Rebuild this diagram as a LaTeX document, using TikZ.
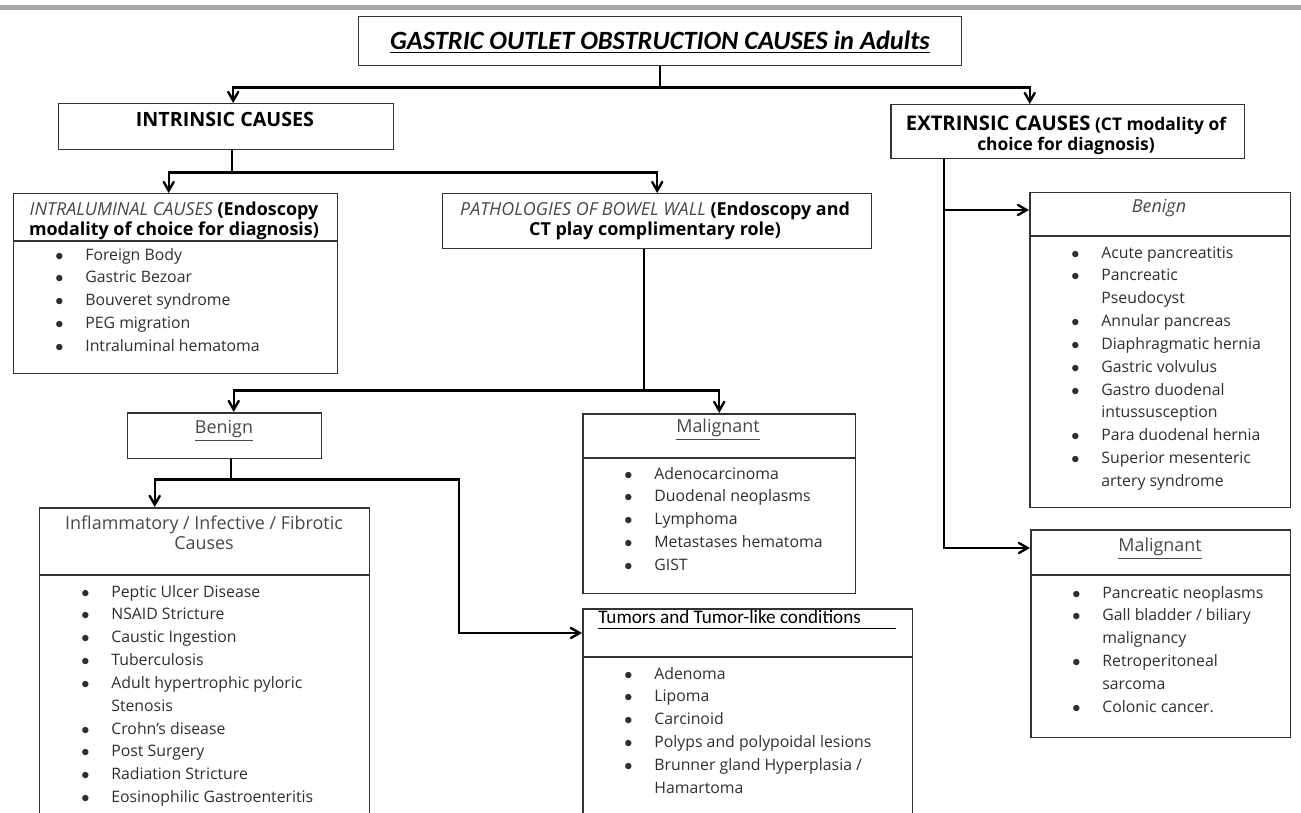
\documentclass[tikz,border=0pt]{standalone}
\usepackage{fontspec}
\setmainfont{Open Sans}
\newfontfamily\calfont{Carlito}
\usetikzlibrary{arrows}
\definecolor{txtgray}{HTML}{2E2E2E}
\definecolor{capgray}{HTML}{474747}
\definecolor{boxgray}{HTML}{333333}
\definecolor{bargray}{HTML}{A6A6A6}
\tikzstyle{box} = [rectangle, draw=boxgray, line width=0.85pt, anchor=north west, inner sep=0pt]
\tikzstyle{head} = [font=\fontsize{10.2}{11.6}\selectfont, align=center, inner sep=0pt]
\tikzstyle{items} = [anchor=base west, inner sep=0pt, text=txtgray, font=\fontsize{9}{13}\selectfont]
\tikzstyle{link} = [line width=1.35pt]
\tikzstyle{arr} = [link, ->, >=angle 60]
\tikzstyle{divider} = [draw=boxgray, line width=0.85pt]
\newcommand{\blist}[1]{\begin{tabular}[t]{@{}l@{}l@{}}#1\end{tabular}}
\newcommand{\bt}{\makebox[0.62cm][l]{\hspace{0.02cm}$\bullet$}}

\begin{document}
\begin{tikzpicture}[x=0.02cm, y=-0.02cm]
\path[use as bounding box, clip] (0,0) rectangle (1301,812);
\fill[bargray] (0,5) rectangle (1301,10);

% boxes
\node[box, minimum width=12.06cm, minimum height=0.98cm] (title) at (358,16) {};
\node[box, minimum width=6.7cm, minimum height=0.92cm] (intr) at (58,103) {};
\node[box, minimum width=7.08cm, minimum height=1.08cm] (extr) at (890,104) {};
\node[box, minimum width=6.48cm, minimum height=3.6cm] (lum) at (13,193) {};
\node[box, minimum width=8.58cm, minimum height=1.1cm] (wall) at (442,193) {};
\node[box, minimum width=3.88cm, minimum height=0.92cm] (ben) at (127,412) {};
\node[box, minimum width=5.46cm, minimum height=3.6cm] (mal) at (582,413) {};
\node[box, minimum width=6.6cm, minimum height=6.46cm] (inf) at (39,507) {};
\node[box, minimum width=6.6cm, minimum height=4.44cm] (tum) at (582,608) {};
\node[box, minimum width=5.22cm, minimum height=6.3cm] (ebn) at (1029,192) {};
\node[box, minimum width=5.2cm, minimum height=4.16cm] (eml) at (1030,529) {};

% header rules
\draw[divider] ([yshift=-0.96cm]lum.north west) -- ([yshift=-0.96cm]lum.north east);
\draw[divider] ([yshift=-0.9cm]mal.north west) -- ([yshift=-0.9cm]mal.north east);
\draw[divider] ([yshift=-1.36cm]inf.north west) -- ([yshift=-1.36cm]inf.north east);
\draw[divider] ([yshift=-0.98cm]tum.north west) -- ([yshift=-0.98cm]tum.north east);
\draw[divider] ([yshift=-0.88cm]ebn.north west) -- ([yshift=-0.88cm]ebn.north east);
\draw[divider] ([yshift=-0.92cm]eml.north west) -- ([yshift=-0.92cm]eml.north east);

% headings
\node[head, font=\calfont\bfseries\itshape\fontsize{15}{17}\selectfont] (titletxt) at (660,42) {\underline{GASTRIC OUTLET OBSTRUCTION CAUSES in Adults}};
\node[head, font=\bfseries\fontsize{11.2}{13}\selectfont] (intrtxt) at (225,119) {INTRINSIC CAUSES};
\node[head, font=\bfseries\fontsize{9.9}{11.6}\selectfont] (extrtxt) at (1066,135) {{\fontsize{11.5}{13}\selectfont EXTRINSIC CAUSES} (CT modality of\\choice for diagnosis)};
\node[head] (lumtxt) at (174,221) {{\itshape\color{capgray}INTRALUMINAL CAUSES} \textbf{(Endoscopy}\\\textbf{modality of choice for diagnosis)}};
\node[head] (walltxt) at (655,221) {{\itshape\color{capgray}PATHOLOGIES OF BOWEL WALL} \textbf{(Endoscopy and}\\\textbf{CT play complimentary role)}};
\node[head, text=capgray] (bentxt) at (224,431) {\underline{Benign}};
\node[head, text=capgray] (maltxt) at (718,430) {\underline{Malignant}};
\node[head, text=capgray] (inftxt) at (204,533) {Inflammatory / Infective / Fibrotic\\Causes};
\node[head, anchor=base west, font=\calfont\fontsize{10.9}{13}\selectfont] (tumtxt) at (598,623) {Tumors and Tumor-like conditions};
\draw[line width=0.6pt] ([yshift=-0.11cm]tumtxt.base west) -- ++(298,0);
\node[head, text=capgray] (ebntxt) at (1159,208) {\itshape Benign};
\node[head, text=capgray] (emltxt) at (1160,549) {\underline{Malignant}};

% lists
\node[items] (lumlist) at (54,260) {\blist{
\bt & Foreign Body\\
\bt & Gastric Bezoar\\
\bt & Bouveret syndrome\\
\bt & PEG migration\\
\bt & Intraluminal hematoma}};
\node[items] (mallist) at (623,479) {\blist{
\bt & Adenocarcinoma\\
\bt & Duodenal neoplasms\\
\bt & Lymphoma\\
\bt & Metastases hematoma\\
\bt & GIST}};
\node[items] (inflist) at (80,597) {\blist{
\bt & Peptic Ulcer Disease\\
\bt & NSAID Stricture\\
\bt & Caustic Ingestion\\
\bt & Tuberculosis\\
\bt & Adult hypertrophic pyloric\\
    & Stenosis\\
\bt & Crohn’s disease\\
\bt & Post Surgery\\
\bt & Radiation Stricture\\
\bt & Eosinophilic Gastroenteritis}};
\node[items] (tumlist) at (623,679) {\blist{
\bt & Adenoma\\
\bt & Lipoma\\
\bt & Carcinoid\\
\bt & Polyps and polypoidal lesions\\
\bt & Brunner gland Hyperplasia /\\
    & Hamartoma}};
\node[items] (ebnlist) at (1070,258) {\blist{
\bt & Acute pancreatitis\\
\bt & Pancreatic\\
    & Pseudocyst\\
\bt & Annular pancreas\\
\bt & Diaphragmatic hernia\\
\bt & Gastric volvulus\\
\bt & Gastro duodenal\\
    & intussusception\\
\bt & Para duodenal hernia\\
\bt & Superior mesenteric\\
    & artery syndrome}};
\node[items] (emllist) at (1071,598) {\blist{
\bt & Pancreatic neoplasms\\
\bt & Gall bladder / biliary\\
    & malignancy\\
\bt & Retroperitoneal\\
    & sarcoma\\
\bt & Colonic cancer.}};

% connectors
\draw[link] (title.south) -- ++(0,21) coordinate (c1);
\draw[arr] (c1) -| ([xshift=0.14cm]intr.north);
\draw[arr] (c1) -| ([xshift=-0.76cm]extr.north);
\draw[link] ([xshift=0.11cm]intr.south) -- ++(0,22) coordinate (c2);
\draw[arr] (c2) -| ([xshift=-0.14cm]lum.north);
\draw[arr] (c2) -| (wall.north);
\draw[link] ([xshift=-0.27cm]wall.south) -- ++(0,141) coordinate (c3);
\draw[arr] (c3) -| ([xshift=0.18cm]ben.north);
\draw[arr] (c3) -| (mal.north);
\draw[link] ([xshift=0.12cm]ben.south) -- ++(0,20) coordinate (c4);
\draw[arr] (c4) -| ([xshift=-1cm]inf.north);
\draw[arr] (c4) -- ++(228,0) |- ([yshift=-0.5cm]tum.north west);
\coordinate (e1) at ([xshift=-2.48cm]extr.south);
\coordinate (e2) at ([yshift=-0.36cm]ebn.north west);
\draw[arr] (e1) |- ([yshift=-0.38cm]eml.north west);
\draw[arr] (e1 |- e2) -- (e2);
\end{tikzpicture}
\end{document}
